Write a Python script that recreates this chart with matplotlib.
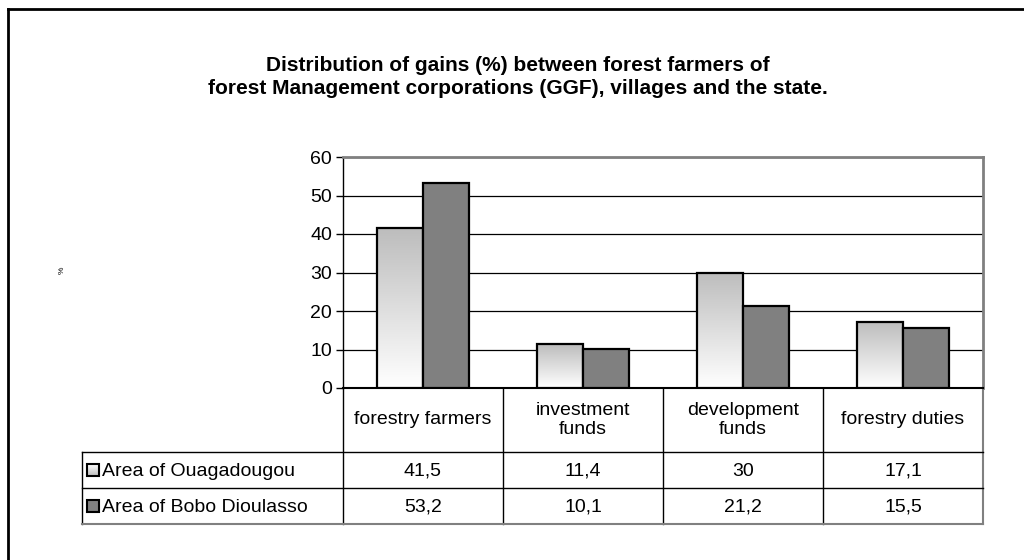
import numpy as np
import matplotlib
matplotlib.use("Agg")
import matplotlib.pyplot as plt
from matplotlib.colors import LinearSegmentedColormap
from matplotlib.patches import Rectangle

plt.rcParams['font.family'] = ['Liberation Sans', 'DejaVu Sans']

categories = ["forestry farmers", "investment\nfunds", "development\nfunds", "forestry duties"]
series_names = ["Area of Ouagadougou", "Area of Bobo Dioulasso"]
ouaga = [41.5, 11.4, 30, 17.1]
bobo = [53.2, 10.1, 21.2, 15.5]
yticks = [0, 10, 20, 30, 40, 50, 60]

title = ("Distribution of gains (%) between forest farmers of\n"
         "forest Management corporations (GGF), villages and the state.")

W, H = 1024, 560
fig = plt.figure(figsize=(W / 100, H / 100), dpi=100)

# overlay in pixel coordinates for the frame and the data table
ov = fig.add_axes([0, 0, 1, 1])
ov.set_xlim(0, W)
ov.set_ylim(H, 0)
ov.axis("off")

# outer chart frame (right and bottom run off the picture)
ov.plot([8, 8], [9, H], color="black", lw=2)
ov.plot([8, W], [9, 9], color="black", lw=2)

fig.text(518 / W, 1 - 77 / H, title, ha="center", va="center", fontsize=15,
         fontweight="bold", linespacing=1.3)
fig.text(62 / W, 1 - 270 / H, "%", rotation=90, ha="center", va="center", fontsize=6)

# plot area
x0, x1, ytop, ybot = 343, 983, 157, 388
ax = fig.add_axes([x0 / W, 1 - ybot / H, (x1 - x0) / W, (ybot - ytop) / H])
ax.set_zorder(2)
ax.patch.set_alpha(0)

x = np.arange(len(categories))
w = 0.29
grad = LinearSegmentedColormap.from_list("g", ["#ffffff", "#bdbdbd"])
bars1 = ax.bar(x - w / 2, ouaga, w, facecolor="none", edgecolor="black", lw=1.6, zorder=4)
bars2 = ax.bar(x + w / 2, bobo, w, facecolor="#808080", edgecolor="black", lw=1.6, zorder=4)
for b in bars1:
    bx, by = b.get_x(), b.get_y()
    bw, bh = b.get_width(), b.get_height()
    im = ax.imshow(np.linspace(0, 1, 100).reshape(-1, 1), cmap=grad, origin="lower",
                   extent=[bx, bx + bw, by, by + bh], aspect="auto", zorder=3)
    im.set_clip_path(b)

ax.set_xlim(-0.5, len(categories) - 0.5)
ax.set_ylim(0, 60)
ax.set_yticks(yticks)
ax.yaxis.grid(True, color="black", lw=0.9)
ax.set_axisbelow(True)
ax.set_xticks([])
ax.tick_params(axis="y", labelsize=14, length=5, width=1, pad=3)
ax.spines["top"].set_color("#808080")
ax.spines["top"].set_linewidth(2)
ax.spines["right"].set_color("#808080")
ax.spines["right"].set_linewidth(2)
ax.spines["left"].set_linewidth(1)
ax.spines["bottom"].set_linewidth(1.5)

# data table under the plot
col_edges = np.linspace(x0, x1, len(categories) + 1)
lx = 82
r0, r1, r2, r3 = ybot, 452, 488, 524
k = "black"
for cx in col_edges[:-1]:
    ov.plot([cx, cx], [r0, r3], color=k, lw=1)
ov.plot([x1, x1], [r0, r3], color="#808080", lw=1.5)
ov.plot([lx, lx], [r1, r3], color=k, lw=1)
ov.plot([lx, x1], [r1, r1], color=k, lw=1)
ov.plot([lx, x1], [r2, r2], color=k, lw=1)
ov.plot([lx, x1], [r3, r3], color="#808080", lw=1.5)

for i, c in enumerate(categories):
    cx = (col_edges[i] + col_edges[i + 1]) / 2
    ov.text(cx, (r0 + r1) / 2, c, ha="center", va="center", fontsize=14, linespacing=1.15)
    for vals, ya, yb in [(ouaga, r1, r2), (bobo, r2, r3)]:
        v = vals[i]
        s = f"{v:g}".replace(".", ",")
        ov.text(cx, (ya + yb) / 2 + 1, s, ha="center", va="center", fontsize=14)

# legend keys in the table
for name, ya, yb, light in [(series_names[0], r1, r2, True), (series_names[1], r2, r3, False)]:
    cy = (ya + yb) / 2
    if light:
        im = ov.imshow(np.linspace(0, 1, 50).reshape(-1, 1), cmap=grad, origin="upper",
                       extent=[87, 99, cy + 6, cy - 6], aspect="auto", zorder=3)
        ov.add_patch(Rectangle((87, cy - 6), 12, 12, facecolor="none", edgecolor="black",
                               lw=1.5, zorder=4))
    else:
        ov.add_patch(Rectangle((87, cy - 6), 12, 12, facecolor="#808080", edgecolor="black",
                               lw=1.5, zorder=4))
    ov.text(102, cy + 1, name, ha="left", va="center", fontsize=14)
ov.set_xlim(0, W)
ov.set_ylim(H, 0)

fig.savefig("out.png", dpi=100)
